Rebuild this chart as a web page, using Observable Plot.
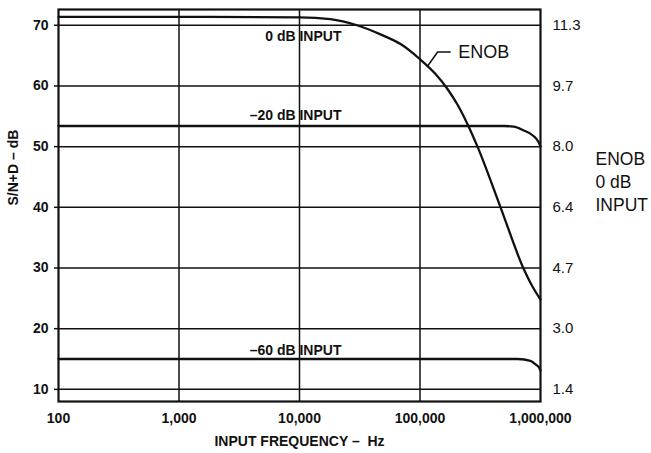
<!DOCTYPE html>
<html>
<head>
<meta charset="utf-8">
<script src="https://cdn.jsdelivr.net/npm/d3@7"></script>
<script src="https://cdn.jsdelivr.net/npm/@observablehq/plot@0.6"></script>
<style>
  body { margin: 0; background: #fff; }
  #chart svg { display: block; }
</style>
</head>
<body>
<div id="chart"></div>
<script>
// Axis ticks and their printed labels
const freqTicks = [100, 1000, 10000, 100000, 1000000];
const freqLabels = ["100", "1,000", "10,000", "100,000", "1,000,000"];
const sinadTicks = [10, 20, 30, 40, 50, 60, 70];
const enobLabels = ["1.4", "3.0", "4.7", "6.4", "8.0", "9.7", "11.3"];

// S/N+D (dB) versus input frequency (Hz) for three input levels
const freq0dB = [100, 1000, 10000, 18000, 30000, 47000, 69000, 100000, 134000, 169000, 205000, 248000, 300000, 466000, 720000, 860000, 1000000];
const sinad0dB = [71.4, 71.4, 71.3, 71.0, 70.0, 68.5, 66.9, 64.4, 62.0, 59.5, 56.9, 53.7, 50.0, 40.0, 30.0, 26.9, 24.8];

const freqMinus20 = [100, 500000, 600000, 720000, 870000, 960000, 1000000];
const sinadMinus20 = [53.4, 53.4, 53.3, 52.7, 51.8, 50.8, 50.0];

const freqMinus60 = [100, 650000, 826000, 910000, 980000, 1000000];
const sinadMinus60 = [15.0, 15.0, 14.7, 14.1, 13.5, 13.1];

// Curve labels
const inputLabels = ["0 dB INPUT", "\u201320 dB INPUT", "\u201360 dB INPUT"];
const inputLabelFreq = [22300, 22300, 22300];
const inputLabelSinad = [68.1, 55.2, 16.4];

// ENOB callout with its leader
const enobCallout = "ENOB";
const enobCalloutFreq = 208000;
const enobCalloutSinad = 65.6;
const leaderFreq = [115000, 140000, 178000];
const leaderSinad = [63.2, 65.6, 65.6];

const series = (fs, vs) => fs.map((f, i) => ({f, v: vs[i]}));
const curve0 = series(freq0dB, sinad0dB);
const curve20 = series(freqMinus20, sinadMinus20);
const curve60 = series(freqMinus60, sinadMinus60);
const labels = inputLabels.map((t, i) => ({t, f: inputLabelFreq[i], v: inputLabelSinad[i]}));
const leader = series(leaderFreq, leaderSinad);

const freqLabelMap = new Map(freqTicks.map((d, i) => [d, freqLabels[i]]));
const enobMap = new Map(sinadTicks.map((d, i) => [d, enobLabels[i]]));

const ink = "#111";
const font = '"Liberation Sans", Arial, Helvetica, sans-serif';

const chart = Plot.plot({
  width: 651,
  height: 453,
  marginLeft: 58,
  marginRight: 111,
  marginTop: 9,
  marginBottom: 52,
  x: {type: "log", domain: [100, 1000000], axis: null},
  y: {domain: [8.0, 72.6], axis: null},
  style: {fontFamily: font, background: "#fff", color: ink},
  marks: [
    Plot.ruleX(freqTicks.slice(1, -1), {stroke: ink, strokeWidth: 1.5}),
    Plot.ruleY(sinadTicks, {stroke: ink, strokeWidth: 1.5}),
    Plot.frame({stroke: ink, strokeWidth: 2.2}),

    Plot.axisX({ticks: freqTicks, tickFormat: d => freqLabelMap.get(d), tickSize: 0, tickPadding: 12,
      fontSize: 14, fontWeight: "bold", label: null}),
    Plot.axisY({ticks: sinadTicks, tickSize: 4, tickPadding: 6, stroke: ink, strokeWidth: 1.5,
      fontSize: 14, fontWeight: "bold", label: null}),
    Plot.axisY({anchor: "right", ticks: sinadTicks, tickFormat: d => enobMap.get(d), tickSize: 0, tickPadding: 12,
      fontSize: 15, label: null}),

    Plot.text(["S/N+D \u2013 dB"], {frameAnchor: "left", dx: -45, rotate: -90, fontSize: 14, fontWeight: "bold"}),
    Plot.text(["INPUT FREQUENCY \u2013\u00a0\u00a0Hz"], {frameAnchor: "bottom", dy: 44, fontSize: 14, fontWeight: "bold"}),
    Plot.text(["ENOB\n0 dB\nINPUT"], {frameAnchor: "right", dx: 55, dy: -25, textAnchor: "start", fontSize: 17.5, lineHeight: 1.32}),

    Plot.line(curve0, {x: "f", y: "v", stroke: ink, strokeWidth: 2.3, curve: "monotone-x"}),
    Plot.line(curve20, {x: "f", y: "v", stroke: ink, strokeWidth: 2.3, curve: "monotone-x"}),
    Plot.line(curve60, {x: "f", y: "v", stroke: ink, strokeWidth: 2.3, curve: "monotone-x"}),

    Plot.text(labels, {x: "f", y: "v", text: "t", textAnchor: "end", fontSize: 14, fontWeight: "bold"}),
    Plot.line(leader, {x: "f", y: "v", stroke: ink, strokeWidth: 1.5}),
    Plot.text([enobCallout], {x: enobCalloutFreq, y: enobCalloutSinad, textAnchor: "start", fontSize: 18})
  ]
});

document.getElementById("chart").append(chart);
</script>
</body>
</html>
